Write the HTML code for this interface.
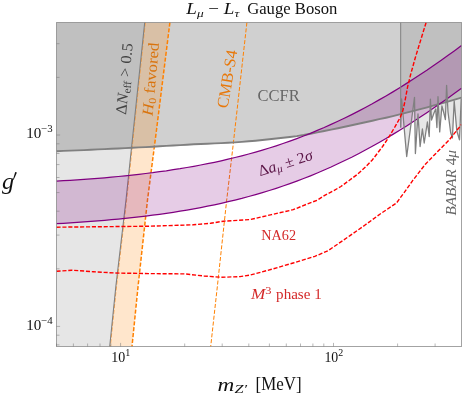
<!DOCTYPE html>
<html><head><meta charset="utf-8"><title>Lmu-Ltau Gauge Boson</title>
<style>
html,body{margin:0;padding:0;background:#fff;}
body{width:463px;height:398px;overflow:hidden;}
svg{display:block;will-change:transform;}
text{font-family:"Liberation Serif",serif;}
</style></head><body>
<svg width="463" height="398" viewBox="0 0 463 398">
<rect width="463" height="398" fill="#fff"/>
<defs><clipPath id="c"><rect x="56.5" y="22.5" width="405.0" height="324.0"/></clipPath></defs>
<g clip-path="url(#c)">
<path d="M56.5 151.2 L63.4 150.9 L70.2 150.6 L77.1 150.4 L84.0 150.1 L90.8 149.8 L97.7 149.4 L104.6 149.1 L111.4 148.8 L118.3 148.5 L125.1 148.1 L132.0 147.8 L138.9 147.4 L145.7 147.1 L152.6 146.7 L159.5 146.3 L166.3 145.9 L173.2 145.5 L180.1 145.1 L186.9 144.7 L193.8 144.3 L200.7 144.0 L207.5 143.7 L214.4 143.4 L221.2 143.1 L228.1 142.8 L235.0 142.4 L241.8 141.9 L248.7 141.3 L255.6 140.7 L262.4 140.0 L269.3 139.3 L276.2 138.5 L283.0 137.8 L289.9 137.0 L296.8 136.1 L303.6 135.0 L310.5 133.7 L317.3 132.4 L324.2 131.0 L331.1 129.6 L337.9 128.2 L344.8 126.8 L351.7 125.3 L358.5 123.8 L365.4 122.3 L372.3 120.8 L379.1 119.2 L386.0 117.7 L392.9 116.1 L399.7 114.4 L406.6 112.7 L413.4 110.9 L420.3 109.1 L427.2 107.3 L434.0 105.4 L440.9 103.5 L447.8 101.6 L454.6 99.7 L461.5 97.7 L461.5 22.5 L56.5 22.5Z" fill="rgb(128,128,128)" fill-opacity="0.37"/>
<path d="M144.7 22.5 L126.0 200.0 L115.9 286.0 L109.7 346.5 L56.5 346.5 L56.5 22.5Z" fill="rgb(128,128,128)" fill-opacity="0.2"/>
<path d="M144.7 22.5 L126.0 200.0 L115.9 286.0 L109.7 346.5 L132.0 346.5 L138.1 286.0 L147.5 200.0 L156.5 130.0 L169.9 22.5Z" fill="rgb(255,128,0)" fill-opacity="0.2"/>
<path d="M145.3 22.5 L126.6 200.0 L116.5 286.0 L110.3 346.5" fill="none" stroke="#ff9933" stroke-width="0.9" stroke-dasharray="4.1 1.8"/>
<path d="M144.7 22.5 L126.0 200.0 L115.9 286.0 L109.7 346.5" fill="none" stroke="#808080" stroke-width="1.1"/>
<path d="M169.9 22.5 L156.5 130.0 L147.5 200.0 L138.1 286.0 L132.0 346.5" fill="none" stroke="#ff8000" stroke-width="1.5" stroke-dasharray="4.1 1.8"/>
<path d="M246.9 22.5 L232.8 148.0 L226.7 200.0 L217.4 286.0 L210.7 346.5" fill="none" stroke="#ff8000" stroke-width="1" stroke-dasharray="4.1 1.8"/>
<path d="M400.7 22.5 L400.7 127.6 L401.6 99.0 L406.7 156.5 L410.5 128.0 L414.5 97.3 L415.4 153.5 L418.0 114.0 L420.1 146.5 L422.4 129.0 L424.2 143.0 L427.4 122.0 L429.2 136.5 L430.4 99.2 L431.5 120.0 L434.0 113.0 L435.7 109.0 L436.9 127.5 L438.0 96.7 L439.7 131.9 L441.9 106.0 L443.6 112.0 L445.4 119.6 L446.6 85.3 L448.0 112.0 L450.7 132.8 L452.4 138.0 L454.2 101.0 L456.8 131.0 L459.5 139.8 L461.2 99.0 L461.5 22.5Z" fill="rgb(128,128,128)" fill-opacity="0.2"/>
<path d="M56.5 181.1 L63.4 180.7 L70.2 180.3 L77.1 179.9 L84.0 179.4 L90.8 178.9 L97.7 178.4 L104.6 177.8 L111.4 177.2 L118.3 176.5 L125.1 175.8 L132.0 175.1 L138.9 174.3 L145.7 173.5 L152.6 172.7 L159.5 171.7 L166.3 170.8 L173.2 169.7 L180.1 168.7 L186.9 167.5 L193.8 166.3 L200.7 165.0 L207.5 163.7 L214.4 162.3 L221.2 160.8 L228.1 159.2 L235.0 157.5 L241.8 155.8 L248.7 154.0 L255.6 152.1 L262.4 150.1 L269.3 148.0 L276.2 145.8 L283.0 143.5 L289.9 141.1 L296.8 138.6 L303.6 136.0 L310.5 133.3 L317.3 130.4 L324.2 127.5 L331.1 124.4 L337.9 121.3 L344.8 118.0 L351.7 114.6 L358.5 111.1 L365.4 107.5 L372.3 103.8 L379.1 99.9 L386.0 96.0 L392.9 91.9 L399.7 87.7 L406.6 83.4 L413.4 79.0 L420.3 74.5 L427.2 70.0 L434.0 65.3 L440.9 60.5 L447.8 55.6 L454.6 50.7 L461.5 45.6 L461.5 88.2 L454.6 93.2 L447.8 98.2 L440.9 103.0 L434.0 107.8 L427.2 112.5 L420.3 117.1 L413.4 121.6 L406.6 126.0 L399.7 130.3 L392.9 134.4 L386.0 138.5 L379.1 142.5 L372.3 146.3 L365.4 150.0 L358.5 153.7 L351.7 157.2 L344.8 160.5 L337.9 163.8 L331.1 167.0 L324.2 170.0 L317.3 173.0 L310.5 175.8 L303.6 178.5 L296.8 181.1 L289.9 183.6 L283.0 186.0 L276.2 188.3 L269.3 190.5 L262.4 192.6 L255.6 194.6 L248.7 196.5 L241.8 198.4 L235.0 200.1 L228.1 201.7 L221.2 203.3 L214.4 204.8 L207.5 206.2 L200.7 207.6 L193.8 208.9 L186.9 210.1 L180.1 211.2 L173.2 212.3 L166.3 213.3 L159.5 214.3 L152.6 215.2 L145.7 216.1 L138.9 216.9 L132.0 217.7 L125.1 218.4 L118.3 219.1 L111.4 219.7 L104.6 220.3 L97.7 220.9 L90.8 221.4 L84.0 221.9 L77.1 222.4 L70.2 222.9 L63.4 223.3 L56.5 223.7Z" fill="rgb(128,0,128)" fill-opacity="0.2"/>
<path d="M56.5 151.2 L63.4 150.9 L70.2 150.6 L77.1 150.4 L84.0 150.1 L90.8 149.8 L97.7 149.4 L104.6 149.1 L111.4 148.8 L118.3 148.5 L125.1 148.1 L132.0 147.8 L138.9 147.4 L145.7 147.1 L152.6 146.7 L159.5 146.3 L166.3 145.9 L173.2 145.5 L180.1 145.1 L186.9 144.7 L193.8 144.3 L200.7 144.0 L207.5 143.7 L214.4 143.4 L221.2 143.1 L228.1 142.8 L235.0 142.4 L241.8 141.9 L248.7 141.3 L255.6 140.7 L262.4 140.0 L269.3 139.3 L276.2 138.5 L283.0 137.8 L289.9 137.0 L296.8 136.1 L303.6 135.0 L310.5 133.7 L317.3 132.4 L324.2 131.0 L331.1 129.6 L337.9 128.2 L344.8 126.8 L351.7 125.3 L358.5 123.8 L365.4 122.3 L372.3 120.8 L379.1 119.2 L386.0 117.7 L392.9 116.1 L399.7 114.4 L406.6 112.7 L413.4 110.9 L420.3 109.1 L427.2 107.3 L434.0 105.4 L440.9 103.5 L447.8 101.6 L454.6 99.7 L461.5 97.7" fill="none" stroke="#808080" stroke-width="1.9"/>
<path d="M56.5 181.1 L63.4 180.7 L70.2 180.3 L77.1 179.9 L84.0 179.4 L90.8 178.9 L97.7 178.4 L104.6 177.8 L111.4 177.2 L118.3 176.5 L125.1 175.8 L132.0 175.1 L138.9 174.3 L145.7 173.5 L152.6 172.7 L159.5 171.7 L166.3 170.8 L173.2 169.7 L180.1 168.7 L186.9 167.5 L193.8 166.3 L200.7 165.0 L207.5 163.7 L214.4 162.3 L221.2 160.8 L228.1 159.2 L235.0 157.5 L241.8 155.8 L248.7 154.0 L255.6 152.1 L262.4 150.1 L269.3 148.0 L276.2 145.8 L283.0 143.5 L289.9 141.1 L296.8 138.6 L303.6 136.0 L310.5 133.3 L317.3 130.4 L324.2 127.5 L331.1 124.4 L337.9 121.3 L344.8 118.0 L351.7 114.6 L358.5 111.1 L365.4 107.5 L372.3 103.8 L379.1 99.9 L386.0 96.0 L392.9 91.9 L399.7 87.7 L406.6 83.4 L413.4 79.0 L420.3 74.5 L427.2 70.0 L434.0 65.3 L440.9 60.5 L447.8 55.6 L454.6 50.7 L461.5 45.6" fill="none" stroke="#800080" stroke-width="1.25"/>
<path d="M56.5 223.7 L63.4 223.3 L70.2 222.9 L77.1 222.4 L84.0 221.9 L90.8 221.4 L97.7 220.9 L104.6 220.3 L111.4 219.7 L118.3 219.1 L125.1 218.4 L132.0 217.7 L138.9 216.9 L145.7 216.1 L152.6 215.2 L159.5 214.3 L166.3 213.3 L173.2 212.3 L180.1 211.2 L186.9 210.1 L193.8 208.9 L200.7 207.6 L207.5 206.2 L214.4 204.8 L221.2 203.3 L228.1 201.7 L235.0 200.1 L241.8 198.4 L248.7 196.5 L255.6 194.6 L262.4 192.6 L269.3 190.5 L276.2 188.3 L283.0 186.0 L289.9 183.6 L296.8 181.1 L303.6 178.5 L310.5 175.8 L317.3 173.0 L324.2 170.0 L331.1 167.0 L337.9 163.8 L344.8 160.5 L351.7 157.2 L358.5 153.7 L365.4 150.0 L372.3 146.3 L379.1 142.5 L386.0 138.5 L392.9 134.4 L399.7 130.3 L406.6 126.0 L413.4 121.6 L420.3 117.1 L427.2 112.5 L434.0 107.8 L440.9 103.0 L447.8 98.2 L454.6 93.2 L461.5 88.2" fill="none" stroke="#800080" stroke-width="1.25"/>
<path d="M400.7 22.5V127.6" fill="none" stroke="#808080" stroke-width="1"/>
<path d="M400.7 127.6 L401.6 99.0 L406.7 156.5 L410.5 128.0 L414.5 97.3 L415.4 153.5 L418.0 114.0 L420.1 146.5 L422.4 129.0 L424.2 143.0 L427.4 122.0 L429.2 136.5 L430.4 99.2 L431.5 120.0 L434.0 113.0 L435.7 109.0 L436.9 127.5 L438.0 96.7 L439.7 131.9 L441.9 106.0 L443.6 112.0 L445.4 119.6 L446.6 85.3 L448.0 112.0 L450.7 132.8 L452.4 138.0 L454.2 101.0 L456.8 131.0 L459.5 139.8 L461.2 99.0" fill="none" stroke="#808080" stroke-width="1.3" stroke-linejoin="round"/>
<path d="M56.5 227.2 L150.0 226.2 L193.2 224.8 L210.5 223.3 L223.4 221.2 L250.0 219.6 L271.6 214.6 L293.2 209.7 L306.2 204.4 L317.0 200.3 L324.7 195.4 L333.0 191.0 L340.9 186.5 L348.8 180.7 L357.6 174.2 L366.0 166.5 L372.5 159.7 L382.6 146.5 L388.9 137.0 L395.2 126.4 L400.2 117.5 L403.0 110.0 L404.9 101.5 L407.7 86.4 L410.7 74.3 L415.3 57.7 L421.3 38.1 L426.1 22.5" fill="none" stroke="#ff0000" stroke-width="1.4" stroke-dasharray="4.1 1.8"/>
<path d="M56.5 271.3 L71.6 270.2 L93.2 271.7 L114.8 273.0 L150.0 273.6 L184.6 273.9 L204.0 276.0 L221.3 277.3 L240.0 276.6 L250.0 275.1 L271.6 269.3 L293.2 263.0 L314.8 256.4 L327.8 250.8 L336.4 245.0 L350.0 235.6 L365.1 225.0 L380.2 214.0 L396.5 203.0 L404.0 192.8 L412.8 180.4 L425.4 164.2 L437.9 151.3 L449.2 140.0 L461.5 124.5" fill="none" stroke="#ff0000" stroke-width="1.4" stroke-dasharray="4.1 1.8"/>
</g>
<rect x="56.5" y="22.5" width="405.0" height="324.0" fill="none" stroke="#666" stroke-opacity="0.6" stroke-width="1"/>
<path d="M56.5 344.9h3.0M56.5 335.2h3.0M56.5 326.4h3.6M56.5 268.8h3.0M56.5 235.1h3.0M56.5 211.2h3.0M56.5 192.6h3.0M56.5 177.5h3.0M56.5 164.6h3.0M56.5 153.5h3.0M56.5 143.8h3.0M56.5 135.0h3.6M56.5 77.4h3.0M56.5 43.7h3.0M56.5 346.5v-3.0M73.4 346.5v-3.0M87.6 346.5v-3.0M100.0 346.5v-3.0M110.9 346.5v-3.0M120.6 346.5v-3.6M184.7 346.5v-3.0M222.2 346.5v-3.0M248.8 346.5v-3.0M269.4 346.5v-3.0M286.3 346.5v-3.0M300.5 346.5v-3.0M312.9 346.5v-3.0M323.8 346.5v-3.0M333.5 346.5v-3.6M397.6 346.5v-3.0M435.1 346.5v-3.0" fill="none" stroke="#777" stroke-opacity="0.75" stroke-width="0.7"/>

<text transform="translate(186.3,14.4) scale(1.191,1)" font-size="16.0" fill="#111111"><tspan font-style="italic">L</tspan><tspan font-style="italic" font-size="0.7em" dy="0.2em">μ</tspan><tspan dy="-0.14em"> − </tspan><tspan font-style="italic">L</tspan><tspan font-style="italic" font-size="0.7em" dy="0.2em">τ</tspan></text>
<text transform="translate(247.2,14.4) scale(1.041,1)" font-size="16.0" fill="#111111">Gauge Boson</text>
<text transform="translate(1.9,189.3) scale(1.076,1)" font-size="22.5" fill="#111111"><tspan font-style="italic">g</tspan></text>
<text transform="translate(217.6,390.6) scale(1.256,1)" font-size="18.5" fill="#111111"><tspan font-style="italic">m</tspan><tspan font-style="italic" font-size="0.7em" dy="0.22em">Z′</tspan></text>
<text transform="translate(255.5,390.3) scale(0.900,1)" font-size="18.8" fill="#111111">[MeV]</text>
<text transform="translate(26.2,138.3) scale(1.039,1)" font-size="14.5" fill="#111111">10<tspan font-size="0.72em" dy="-0.57em">−3</tspan></text>
<text transform="translate(26.2,330.1) scale(1.039,1)" font-size="14.5" fill="#111111">10<tspan font-size="0.72em" dy="-0.57em">−4</tspan></text>
<text transform="translate(111.2,361.8) scale(0.964,1)" font-size="14.5" fill="#111111">10<tspan font-size="0.72em" dy="-0.57em">1</tspan></text>
<text transform="translate(324.4,361.8) scale(0.953,1)" font-size="14.5" fill="#111111">10<tspan font-size="0.72em" dy="-0.57em">2</tspan></text>
<text transform="translate(257.6,101.0) scale(1.000,1)" font-size="16.5" fill="#666666">CCFR</text>
<text transform="translate(261.2,240.0) scale(0.996,1)" font-size="14.3" fill="#d42828">NA62</text>
<text transform="translate(251.0,298.6) scale(1.182,1)" font-size="14.6" fill="#d42828"><tspan font-style="italic">M</tspan><tspan font-size="0.72em" dy="-0.47em">3</tspan></text>
<text transform="translate(276.1,298.6) scale(1.054,1)" font-size="14.3" fill="#d42828">phase 1</text>
<text transform="translate(260.0,176.3) rotate(-17.5) scale(1.030,1)" font-size="15.5" fill="#5a1446">Δ<tspan font-style="italic">a</tspan><tspan font-style="italic" font-size="0.7em" dy="0.2em">μ</tspan><tspan dy="-0.14em"> ± 2</tspan><tspan font-style="italic">σ</tspan></text>
<text transform="translate(126.0,114.9) rotate(-84.6) scale(1.051,1)" font-size="15.5" fill="#444444">Δ<tspan font-style="italic">N</tspan><tspan font-size="0.7em" dy="0.2em">eff</tspan><tspan dy="-0.14em"> &gt; 0.5</tspan></text>
<text transform="translate(152.6,115.9) rotate(-84.9) scale(1.079,1)" font-size="15.5" fill="#d9730d"><tspan font-style="italic">H</tspan><tspan font-size="0.7em" dy="0.2em">0</tspan><tspan dy="-0.14em"> favored</tspan></text>
<text transform="translate(227.6,108.8) rotate(-80.4) scale(0.996,1)" font-size="16.3" fill="#e8780a">CMB-S4</text>
<text transform="translate(456.2,215.6) rotate(-90.0) scale(1.015,1)" font-size="15.0" fill="#666666"><tspan font-style="italic">BABAR</tspan> 4<tspan font-style="italic">μ</tspan></text>

<path d="M15.2 172.0L16.9 172.4L13.7 179.7L13.0 179.4Z" fill="#111"/>
</svg>
</body></html>
